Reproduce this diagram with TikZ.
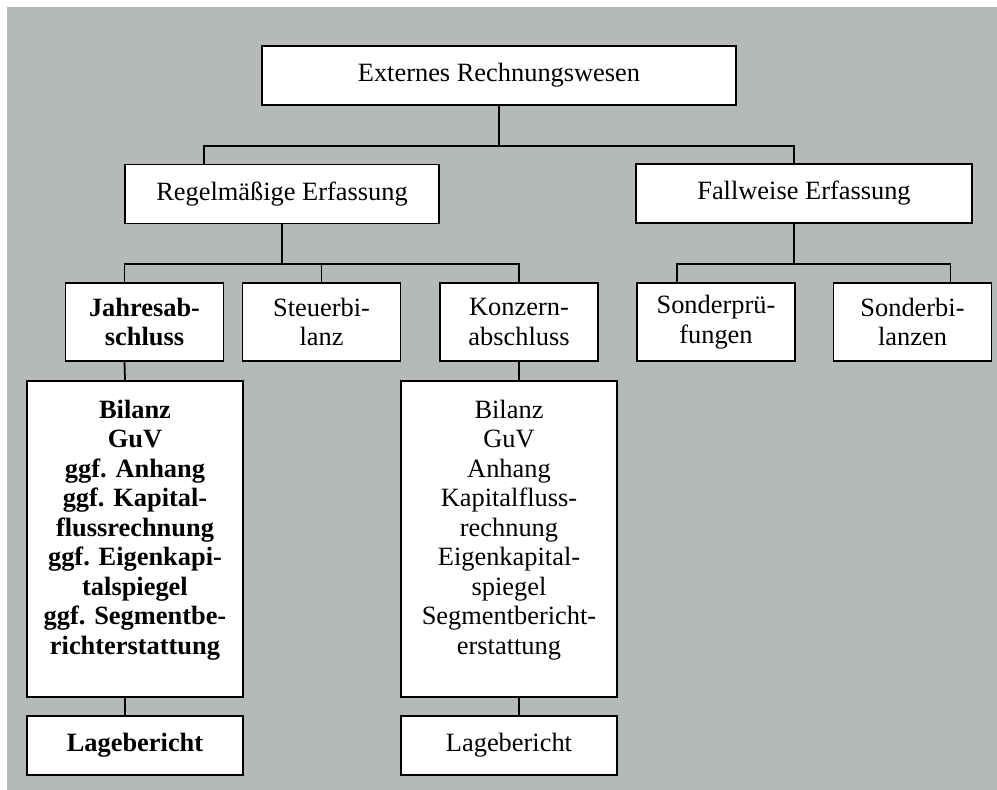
\documentclass[tikz,border=0pt]{standalone}
\usepackage{fontspec}
\setmainfont{Liberation Serif}
\usetikzlibrary{positioning}
\definecolor{sheetgray}{RGB}{181,185,186}

\begin{document}
\begin{tikzpicture}[x=0.5pt,y=-0.5pt,line width=0.9pt,
  every node/.style={align=center,font=\fontsize{13.2}{14.75}\selectfont},
  cell/.style={draw,fill=white,inner sep=0pt,minimum height=29.5pt},
  pair/.style={cell,minimum width=79pt,minimum height=39pt},
  list/.style={cell,minimum width=108pt,minimum height=158pt},
  report/.style={cell,minimum width=108pt}]
  \useasboundingbox (0,0) rectangle (997,790);
  \fill[sheetgray] (7,7) rectangle (997,790);

  % top levels
  \node[cell,minimum width=237pt] (top) at (499,75.5) {Externes Rechnungswesen};
  \node[cell,minimum width=157pt] (regel) at (282,194) {Regelmäßige Erfassung};
  \node[cell,minimum width=168pt] (fall) at (804,193.5) {Fallweise Erfassung};

  % statements
  \node[pair,font=\fontsize{13.2}{14.75}\selectfont\bfseries] (jahr) at (144.5,322) {Jahresab-\\schluss};
  \node[pair] (steuer) at (321.5,322) {Steuerbi-\\lanz};
  \node[pair] (konz) at (519,322) {Konzern-\\abschluss};
  \node[pair] (sp) at (716,322) {Sonderprü-\\fungen};
  \node[pair] (sb) at (912.5,322) {Sonderbi-\\lanzen};

  % parts
  \node[list,font=\fontsize{13.2}{14.75}\selectfont\bfseries] (jdet) at (135,539)
    {Bilanz\\GuV\\ggf. Anhang\\ggf. Kapital-\\flussrechnung\\ggf. Eigenkapi-\\talspiegel\\ggf. Segmentbe-\\richterstattung\\[-2.75pt]\mbox{}};
  \node[list] (kdet) at (509,539)
    {Bilanz\\GuV\\Anhang\\Kapitalfluss-\\rechnung\\Eigenkapital-\\spiegel\\Segmentbericht-\\erstattung\\[-2.75pt]\mbox{}};
  \node[report,font=\fontsize{13.2}{14.75}\selectfont\bfseries] (jlage) at (135,745.5) {Lagebericht};
  \node[report] (klage) at (509,745.5) {Lagebericht};

  % connectors
  \draw (top.south) -- ++(0,40) coordinate (b0);
  \draw (b0) -| ([xshift=-39pt]regel.north);
  \draw (b0) -| ([xshift=-5pt]fall.north);
  \draw (regel.south) -- ++(0,40) coordinate (b1);
  \draw (b1) -| ([xshift=-10pt]jahr.north);
  \draw (b1) -| (steuer.north);
  \draw (b1) -| (konz.north);
  \draw ([xshift=-5pt]fall.south) -- ++(0,40) coordinate (b2);
  \draw (b2) -| ([xshift=-19.5pt]sp.north);
  \draw (b2) -| ([xshift=19pt]sb.north);
  \draw ([xshift=-10pt]jahr.south) -- ([xshift=-5pt]jdet.north);
  \draw ([xshift=-5pt]jdet.south) -- ([xshift=-5pt]jlage.north);
  \draw (konz.south) -- ([xshift=5pt]kdet.north);
  \draw ([xshift=5pt]kdet.south) -- ([xshift=5pt]klage.north);
\end{tikzpicture}
\end{document}
